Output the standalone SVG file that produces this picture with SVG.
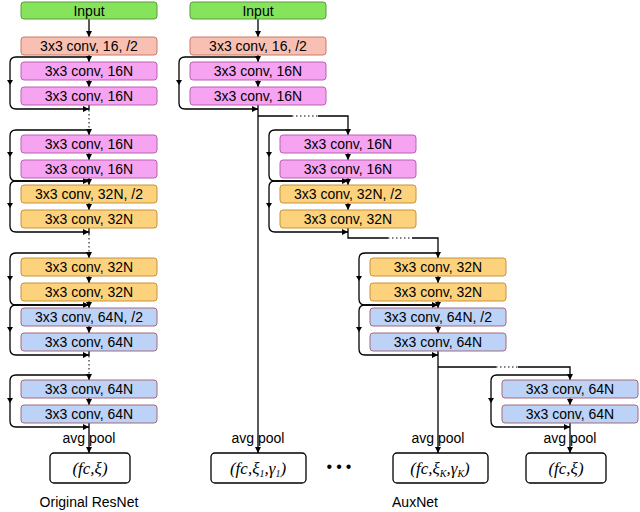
<svg xmlns="http://www.w3.org/2000/svg" width="640" height="512" viewBox="0 0 640 512">
<defs>
<marker id="a" viewBox="0 0 6 6" refX="6" refY="3" markerWidth="5" markerHeight="5" orient="auto"><path d="M0,0L6,3L0,6z" fill="#000"/></marker>
<style>
.b{stroke-width:1}
.g{fill:#86e35c;stroke:#5a9a3a}
.s{fill:#f8c0b2;stroke:#c87a6a}
.p{fill:#f6a4f2;stroke:#b860b0}
.y{fill:#fdd27c;stroke:#c8923a}
.u{fill:#bcd2f6;stroke:#a46a7a}
.f{fill:#fff;stroke:#000;stroke-width:1.3}
text{font-family:"Liberation Sans",Arial,sans-serif;font-size:14px;text-anchor:middle;fill:#000}
.m{font-family:"Liberation Serif","Times New Roman",serif;font-style:italic;font-size:17px}
.sub{font-size:10px}
.c path,.c line{fill:none;stroke:#000;stroke-width:1.3}
.c .d{stroke-dasharray:1.5 2.5;stroke-width:1}
.ar{marker-end:url(#a)}
</style>
</defs>
<g class="c" id="connectors">
<!-- column 1 -->
<line class="ar" x1="89" y1="19" x2="89" y2="37"/>
<line class="ar" x1="89" y1="55" x2="89" y2="62"/>
<line class="ar" x1="89" y1="80" x2="89" y2="87"/>
<line x1="89" y1="105" x2="89" y2="110"/><line class="d" x1="89" y1="110" x2="89" y2="130"/>
<line class="ar" x1="89" y1="130" x2="89" y2="135"/>
<line class="ar" x1="89" y1="153" x2="89" y2="160"/>
<line class="ar" x1="89" y1="178" x2="89" y2="185"/>
<line class="ar" x1="89" y1="203" x2="89" y2="210"/>
<line x1="89" y1="228" x2="89" y2="234"/><line class="d" x1="89" y1="234" x2="89" y2="253"/>
<line class="ar" x1="89" y1="253" x2="89" y2="258"/>
<line class="ar" x1="89" y1="276" x2="89" y2="283"/>
<line class="ar" x1="89" y1="301" x2="89" y2="308"/>
<line class="ar" x1="89" y1="326" x2="89" y2="333"/>
<line x1="89" y1="351" x2="89" y2="356"/><line class="d" x1="89" y1="356" x2="89" y2="375"/>
<line class="ar" x1="89" y1="375" x2="89" y2="380"/>
<line class="ar" x1="89" y1="398" x2="89" y2="405"/>
<line class="ar" x1="89" y1="423" x2="89" y2="453"/>
<path class="ar" d="M89,57H16Q10,57 10,63V103Q10,109 16,109H89"/>
<path class="ar" d="M89,130H16Q10,130 10,136V175Q10,181 16,181H89"/>
<path class="ar" d="M89,181H16Q10,181 10,187V226Q10,232 16,232H89"/>
<path class="ar" d="M89,253H16Q10,253 10,259V299Q10,305 16,305H89"/>
<path class="ar" d="M89,305H16Q10,305 10,311V349Q10,355 16,355H89"/>
<path class="ar" d="M89,375H16Q10,375 10,381V421Q10,427 16,427H89"/>
<!-- column 2 -->
<line class="ar" x1="258" y1="19" x2="258" y2="37"/>
<line class="ar" x1="258" y1="55" x2="258" y2="62"/>
<line class="ar" x1="258" y1="80" x2="258" y2="87"/>
<path class="ar" d="M258,57H185Q179,57 179,63V103Q179,109 185,109H258"/>
<line class="ar" x1="258" y1="105" x2="258" y2="453"/>
<path d="M258,116H292"/><path class="d" d="M292,116H318"/><path class="ar" d="M318,116H348V135"/>
<!-- column 3 -->
<line class="ar" x1="348" y1="153" x2="348" y2="160"/>
<line class="ar" x1="348" y1="178" x2="348" y2="185"/>
<line class="ar" x1="348" y1="203" x2="348" y2="210"/>
<path class="ar" d="M348,130H275Q269,130 269,136V175Q269,181 275,181H348"/>
<path class="ar" d="M348,181H275Q269,181 269,187V226Q269,232 275,232H348"/>
<path d="M348,228V238H388"/><path class="d" d="M388,238H412"/><path class="ar" d="M412,238H438V258"/>
<!-- column 4 -->
<line class="ar" x1="438" y1="276" x2="438" y2="283"/>
<line class="ar" x1="438" y1="301" x2="438" y2="308"/>
<line class="ar" x1="438" y1="326" x2="438" y2="333"/>
<path class="ar" d="M438,253H365Q359,253 359,259V299Q359,305 365,305H438"/>
<path class="ar" d="M438,305H365Q359,305 359,311V349Q359,355 365,355H438"/>
<line class="ar" x1="438" y1="351" x2="438" y2="453"/>
<path d="M438,367H496"/><path class="d" d="M496,367H518"/><path class="ar" d="M518,367H570V380"/>
<!-- column 5 -->
<line class="ar" x1="570" y1="398" x2="570" y2="405"/>
<path class="ar" d="M570,375H497Q491,375 491,381V421Q491,427 497,427H570"/>
<line class="ar" x1="570" y1="423" x2="570" y2="453"/>
</g>
<g fill="#000">
<path d="M7,80h6l-3,5z M7,152h6l-3,5z M7,203h6l-3,5z M7,276h6l-3,5z M7,327h6l-3,5z M7,398h6l-3,5z M176,80h6l-3,5z M266,152h6l-3,5z M266,203h6l-3,5z M356,276h6l-3,5z M356,327h6l-3,5z M488,398h6l-3,5z"/>
</g>
<g id="col1">
<rect class="g" x="21" y="2" width="136" height="17" rx="3"/><text x="89" y="16">Input</text>
<rect class="s" x="21" y="37" width="136" height="18" rx="3"/><text x="89" y="51">3x3 conv, 16, /2</text>
<rect class="p" x="21" y="62" width="136" height="18" rx="3"/><text x="89" y="76">3x3 conv, 16N</text>
<rect class="p" x="21" y="87" width="136" height="18" rx="3"/><text x="89" y="101">3x3 conv, 16N</text>
<rect class="p" x="21" y="135" width="136" height="18" rx="3"/><text x="89" y="149">3x3 conv, 16N</text>
<rect class="p" x="21" y="160" width="136" height="18" rx="3"/><text x="89" y="174">3x3 conv, 16N</text>
<rect class="y" x="21" y="185" width="136" height="18" rx="3"/><text x="89" y="199">3x3 conv, 32N, /2</text>
<rect class="y" x="21" y="210" width="136" height="18" rx="3"/><text x="89" y="224">3x3 conv, 32N</text>
<rect class="y" x="21" y="258" width="136" height="18" rx="3"/><text x="89" y="272">3x3 conv, 32N</text>
<rect class="y" x="21" y="283" width="136" height="18" rx="3"/><text x="89" y="297">3x3 conv, 32N</text>
<rect class="u" x="21" y="308" width="136" height="18" rx="3"/><text x="89" y="322">3x3 conv, 64N, /2</text>
<rect class="u" x="21" y="333" width="136" height="18" rx="3"/><text x="89" y="347">3x3 conv, 64N</text>
<rect class="u" x="21" y="380" width="136" height="18" rx="3"/><text x="89" y="394">3x3 conv, 64N</text>
<rect class="u" x="21" y="405" width="136" height="18" rx="3"/><text x="89" y="419">3x3 conv, 64N</text>
<text x="89" y="443">avg pool</text>
<rect class="f" x="50" y="453" width="80" height="30" rx="4"/><text class="m" x="90" y="474">(fc,ξ)</text>
<text x="89" y="507">Original ResNet</text>
</g>
<g id="col2">
<rect class="g" x="190" y="2" width="136" height="17" rx="3"/><text x="258" y="16">Input</text>
<rect class="s" x="190" y="37" width="136" height="18" rx="3"/><text x="258" y="51">3x3 conv, 16, /2</text>
<rect class="p" x="190" y="62" width="136" height="18" rx="3"/><text x="258" y="76">3x3 conv, 16N</text>
<rect class="p" x="190" y="87" width="136" height="18" rx="3"/><text x="258" y="101">3x3 conv, 16N</text>
<text x="258" y="443">avg pool</text>
<rect class="f" x="211" y="453" width="95" height="30" rx="4"/><text class="m" x="258" y="474">(fc,ξ<tspan class="sub" dy="3">1</tspan><tspan dy="-3">,γ</tspan><tspan class="sub" dy="3">1</tspan><tspan dy="-3">)</tspan></text>
</g>
<g id="col3">
<rect class="p" x="280" y="135" width="136" height="18" rx="3"/><text x="348" y="149">3x3 conv, 16N</text>
<rect class="p" x="280" y="160" width="136" height="18" rx="3"/><text x="348" y="174">3x3 conv, 16N</text>
<rect class="y" x="280" y="185" width="136" height="18" rx="3"/><text x="348" y="199">3x3 conv, 32N, /2</text>
<rect class="y" x="280" y="210" width="136" height="18" rx="3"/><text x="348" y="224">3x3 conv, 32N</text>
<text x="341" y="472" style="font-size:16px;letter-spacing:4px">•••</text>
</g>
<g id="col4">
<rect class="y" x="370" y="258" width="136" height="18" rx="3"/><text x="438" y="272">3x3 conv, 32N</text>
<rect class="y" x="370" y="283" width="136" height="18" rx="3"/><text x="438" y="297">3x3 conv, 32N</text>
<rect class="u" x="370" y="308" width="136" height="18" rx="3"/><text x="438" y="322">3x3 conv, 64N, /2</text>
<rect class="u" x="370" y="333" width="136" height="18" rx="3"/><text x="438" y="347">3x3 conv, 64N</text>
<text x="438" y="443">avg pool</text>
<rect class="f" x="393" y="453" width="95" height="30" rx="4"/><text class="m" x="440" y="474">(fc,ξ<tspan class="sub" dy="3">K</tspan><tspan dy="-3">,γ</tspan><tspan class="sub" dy="3">K</tspan><tspan dy="-3">)</tspan></text>
<text x="415" y="507">AuxNet</text>
</g>
<g id="col5">
<rect class="u" x="502" y="380" width="136" height="18" rx="3"/><text x="570" y="394">3x3 conv, 64N</text>
<rect class="u" x="502" y="405" width="136" height="18" rx="3"/><text x="570" y="419">3x3 conv, 64N</text>
<text x="570" y="443">avg pool</text>
<rect class="f" x="526" y="453" width="80" height="30" rx="4"/><text class="m" x="566" y="474">(fc,ξ)</text>
</g>
</svg>
